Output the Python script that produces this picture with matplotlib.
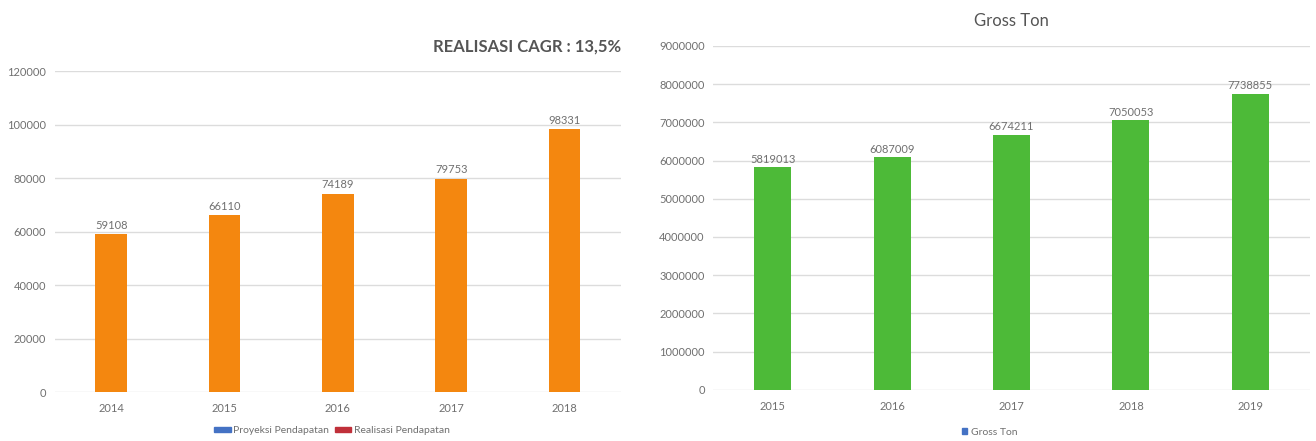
import numpy as np
import matplotlib.pyplot as plt
from matplotlib.patches import Patch
from matplotlib.ticker import StrMethodFormatter

plt.rcParams['font.family'] = ['Lato', 'DejaVu Sans']

# data
years_left = ['2014', '2015', '2016', '2017', '2018']
pendapatan = [59108, 66110, 74189, 79753, 98331]

years_right = ['2015', '2016', '2017', '2018', '2019']
gross_ton = [5819013, 6087009, 6674211, 7050053, 7738855]

legend_left = ['Proyeksi Pendapatan', 'Realisasi Pendapatan']
legend_right = ['Gross Ton']

c_orange = '#F4870F'
c_green = '#4DBA38'
c_grid = '#DCDCDC'
c_text = '#707070'

fig = plt.figure(figsize=(13.16, 4.41), dpi=100)
ax1 = fig.add_axes([0.0415, 0.111, 0.4305, 0.728])
ax2 = fig.add_axes([0.5418, 0.116, 0.4537, 0.780])


def style_ax(ax):
    for s in ax.spines.values():
        s.set_visible(False)
    ax.grid(axis='y', color=c_grid, linewidth=1)
    ax.set_axisbelow(True)
    ax.tick_params(axis='both', length=0, colors=c_text, labelsize=8)
    ax.tick_params(axis='y', pad=6)
    ax.tick_params(axis='x', pad=8)
    ax.yaxis.set_major_formatter(StrMethodFormatter('{x:.0f}'))


# left chart
x1 = np.arange(len(years_left))
ax1.bar(x1, pendapatan, width=0.28, color=c_orange, zorder=2)
for xi, v in zip(x1, pendapatan):
    ax1.text(xi, v + 1200, str(v), ha='center', va='bottom', fontsize=8, color=c_text)
ax1.set_xlim(-0.5, len(years_left) - 0.5)
ax1.set_ylim(0, 120000)
ax1.set_yticks(np.arange(0, 120001, 20000))
ax1.set_xticks(x1)
ax1.set_xticklabels(years_left)
style_ax(ax1)
fig.text(0.472, 0.895, 'REALISASI CAGR : 13,5%', ha='right', va='center',
         fontsize=12, fontweight='bold', color='#555555')
h1 = [Patch(color='#4472C4'), Patch(color='#C0303A')]
fig.legend(h1, legend_left, loc='center', bbox_to_anchor=(0.252, 0.024), ncol=2,
           frameon=False, fontsize=7.5, labelcolor=c_text, handlelength=1.6,
           handleheight=0.4, handletextpad=0.2, columnspacing=0.6)

# right chart
x2 = np.arange(len(years_right))
ax2.bar(x2, gross_ton, width=0.31, color=c_green, zorder=2)
for xi, v in zip(x2, gross_ton):
    ax2.text(xi, v + 70000, str(v), ha='center', va='bottom', fontsize=8, color=c_text)
ax2.set_xlim(-0.5, len(years_right) - 0.5)
ax2.set_ylim(0, 9000000)
ax2.set_yticks(np.arange(0, 9000001, 1000000))
ax2.set_xticks(x2)
ax2.set_xticklabels(years_right)
style_ax(ax2)
ax2.set_title('Gross Ton', fontsize=12, color='#555555', pad=14)
h2 = [Patch(color='#4472C4')]
fig.legend(h2, legend_right, loc='center', bbox_to_anchor=(0.752, 0.02), ncol=1,
           frameon=False, fontsize=7.5, labelcolor=c_text, handlelength=0.5,
           handleheight=0.5, handletextpad=0.3)

fig.savefig('out.png', dpi=100)
